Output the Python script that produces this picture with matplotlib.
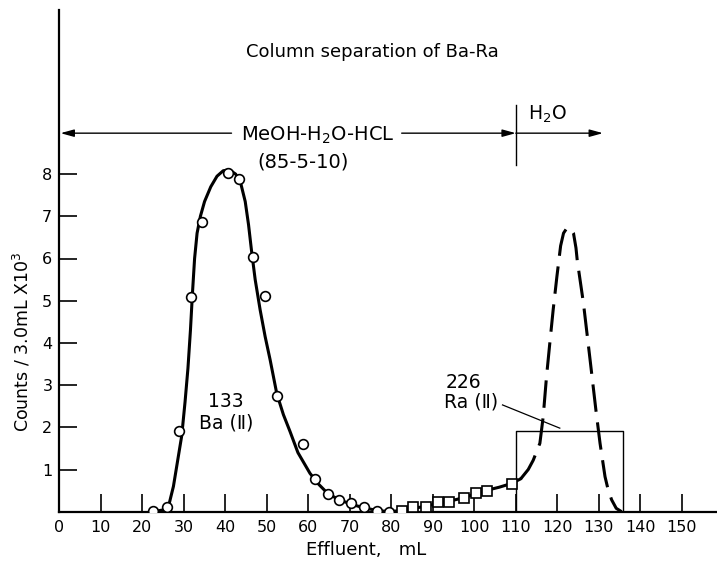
import matplotlib
matplotlib.use("Agg")
import matplotlib.pyplot as plt

plt.rcParams['font.family'] = ['DejaVu Sans']

# ---- data ----
ba_circles_x = [22.5, 25.9, 28.8, 31.7, 34.3, 40.7, 43.3, 46.6, 49.6, 52.5, 58.8,
                61.6, 64.7, 67.5, 70.3, 73.4, 76.6, 79.5]
ba_circles_y = [0.02, 0.10, 1.91, 5.09, 6.87, 8.02, 7.88, 6.04, 5.12, 2.75, 1.60,
                0.77, 0.41, 0.28, 0.20, 0.10, 0.02, 0.00]

ra_squares_x = [82.5, 85.3, 88.4, 91.2, 94.0, 97.4, 100.4, 103.1, 109.0]
ra_squares_y = [0.02, 0.10, 0.10, 0.22, 0.22, 0.33, 0.44, 0.50, 0.65]

ba_curve_x = [22.5, 25.5, 26.5, 27.5, 28.5, 29.5, 30.3, 31.0, 31.6, 32.1, 32.6, 33.2,
              34.0, 35.0, 36.5, 38.0, 39.5, 41.0, 42.5, 43.8, 44.8, 45.6, 46.3, 47.2,
              48.4, 49.6, 50.8, 52.4, 54.0, 55.6, 57.5, 60.4, 62.5, 64.7, 67.5, 70.3,
              73.4, 76.6, 79.5, 82.5, 85.3, 88.4, 91.2, 94.0, 97.4, 100.4, 103.1,
              106.0, 109.0, 111.2]
ba_curve_y = [0.00, 0.05, 0.20, 0.60, 1.20, 1.80, 2.60, 3.40, 4.30, 5.20, 6.00, 6.60,
              7.00, 7.35, 7.70, 7.95, 8.08, 8.10, 8.00, 7.75, 7.35, 6.80, 6.20, 5.50,
              4.78, 4.15, 3.60, 2.80, 2.30, 1.90, 1.40, 0.91, 0.65, 0.43, 0.28, 0.18,
              0.09, 0.03, 0.00, 0.03, 0.08, 0.13, 0.20, 0.25, 0.33, 0.43, 0.51,
              0.58, 0.67, 0.78]

ra_curve_x = [111.2, 113.0, 114.2, 115.8, 116.6, 117.4, 118.2, 119.0, 119.9, 120.8,
              121.5, 122.3, 123.1, 123.9, 124.5, 124.8, 126.3, 127.9, 129.3, 130.3,
              131.5, 132.3, 133.1, 134.2, 135.5]
ra_curve_y = [0.78, 1.00, 1.22, 1.62, 2.25, 3.20, 4.00, 4.78, 5.57, 6.30,
              6.60, 6.72, 6.72, 6.60, 6.25, 5.96, 4.94, 3.60, 2.41, 1.62,
              0.83, 0.50, 0.28, 0.08, 0.00]

box_x = [110.0, 110.0, 135.8, 135.8]
box_y = [0.0, 1.92, 1.92, 0.0]

x_ticks = [0, 10, 20, 30, 40, 50, 60, 70, 80, 90, 100, 110, 120, 130, 140, 150]
y_ticks = [1, 2, 3, 4, 5, 6, 7, 8]

# ---- figure ----
W, H = 717, 563
fig = plt.figure(figsize=(W / 100, H / 100), dpi=100)
ax = fig.add_axes([59.3 / W, 51.3 / H, (W - 59.3) / W, (511.7 - 10) / H])
ax.set_xlim(0, (W - 59.3) / 4.15)
ax.set_ylim(0, (511.7 - 10) / 42.2)

for s in ['top', 'right']:
    ax.spines[s].set_visible(False)
for s in ['left', 'bottom']:
    ax.spines[s].set_linewidth(1.6)

ax.set_xticks(x_ticks)
ax.set_xticklabels([str(t) for t in x_ticks])
ax.set_yticks(y_ticks)
ax.set_yticklabels([str(t) for t in y_ticks])
ax.tick_params(axis='both', direction='in', length=13, width=1.2, labelsize=11.5,
               colors='black')
ax.tick_params(axis='x', pad=6)
ax.tick_params(axis='y', pad=5)

# curves
ax.plot(ba_curve_x, ba_curve_y, color='black', lw=2.2, solid_capstyle='round',
        solid_joinstyle='round', zorder=3)
ax.plot(ra_curve_x, ra_curve_y, color='black', lw=2.2, dashes=(9, 3.5), zorder=3)
ax.plot(box_x, box_y, color='black', lw=1.0, zorder=2)

# markers
ax.plot(ba_circles_x, ba_circles_y, linestyle='none', marker='o', markersize=7,
        markerfacecolor='white', markeredgecolor='black', markeredgewidth=1.2, zorder=4)
ax.plot(ra_squares_x, ra_squares_y, linestyle='none', marker='s', markersize=6.5,
        markerfacecolor='white', markeredgecolor='black', markeredgewidth=1.2, zorder=4)

# labels inside plot
ax.text(40.2, 2.35, "133\nBa (Ⅱ)", ha='center', va='center', fontsize=13.5,
        linespacing=1.15)
ax.text(97.5, 3.05, "226", ha='center', va='center', fontsize=13.5)
ax.text(99.3, 2.6, "Ra (Ⅱ)", ha='center', va='center', fontsize=13.5)
ax.plot([106.8, 120.6], [2.53, 1.98], color='black', lw=0.9)

# title
ax.text(75.4, 10.89, "Column separation of Ba-Ra", ha='center', va='center',
        fontsize=13)

# solvent arrows
yarr = 8.97
arrow_kw = dict(arrowstyle='-|>,head_length=0.8,head_width=0.22', color='black',
                lw=1.0, shrinkA=0, shrinkB=0)
ax.annotate('', xy=(0.3, yarr), xytext=(41.5, yarr), arrowprops=arrow_kw)
ax.annotate('', xy=(110, yarr), xytext=(82.5, yarr), arrowprops=arrow_kw)
ax.annotate('', xy=(131, yarr), xytext=(110, yarr), arrowprops=arrow_kw)
ax.plot([110, 110], [8.21, 9.63], color='black', lw=1.0)
ax.text(62.3, 8.92, "MeOH-H$_2$O-HCL", ha='center', va='center', fontsize=14)
ax.text(58.7, 8.28, "(85-5-10)", ha='center', va='center', fontsize=14)
ax.text(117.6, 9.42, "H$_2$O", ha='center', va='center', fontsize=13.5)

# axis labels
fig.text(22 / W, 1 - 342 / H, "Counts / 3.0mL X10$^3$", rotation=90,
         ha='center', va='center', fontsize=12.5)
fig.text(366 / W, 1 - 550 / H, "Effluent,   mL", ha='center', va='center',
         fontsize=13)

fig.savefig("out.png", dpi=100)
